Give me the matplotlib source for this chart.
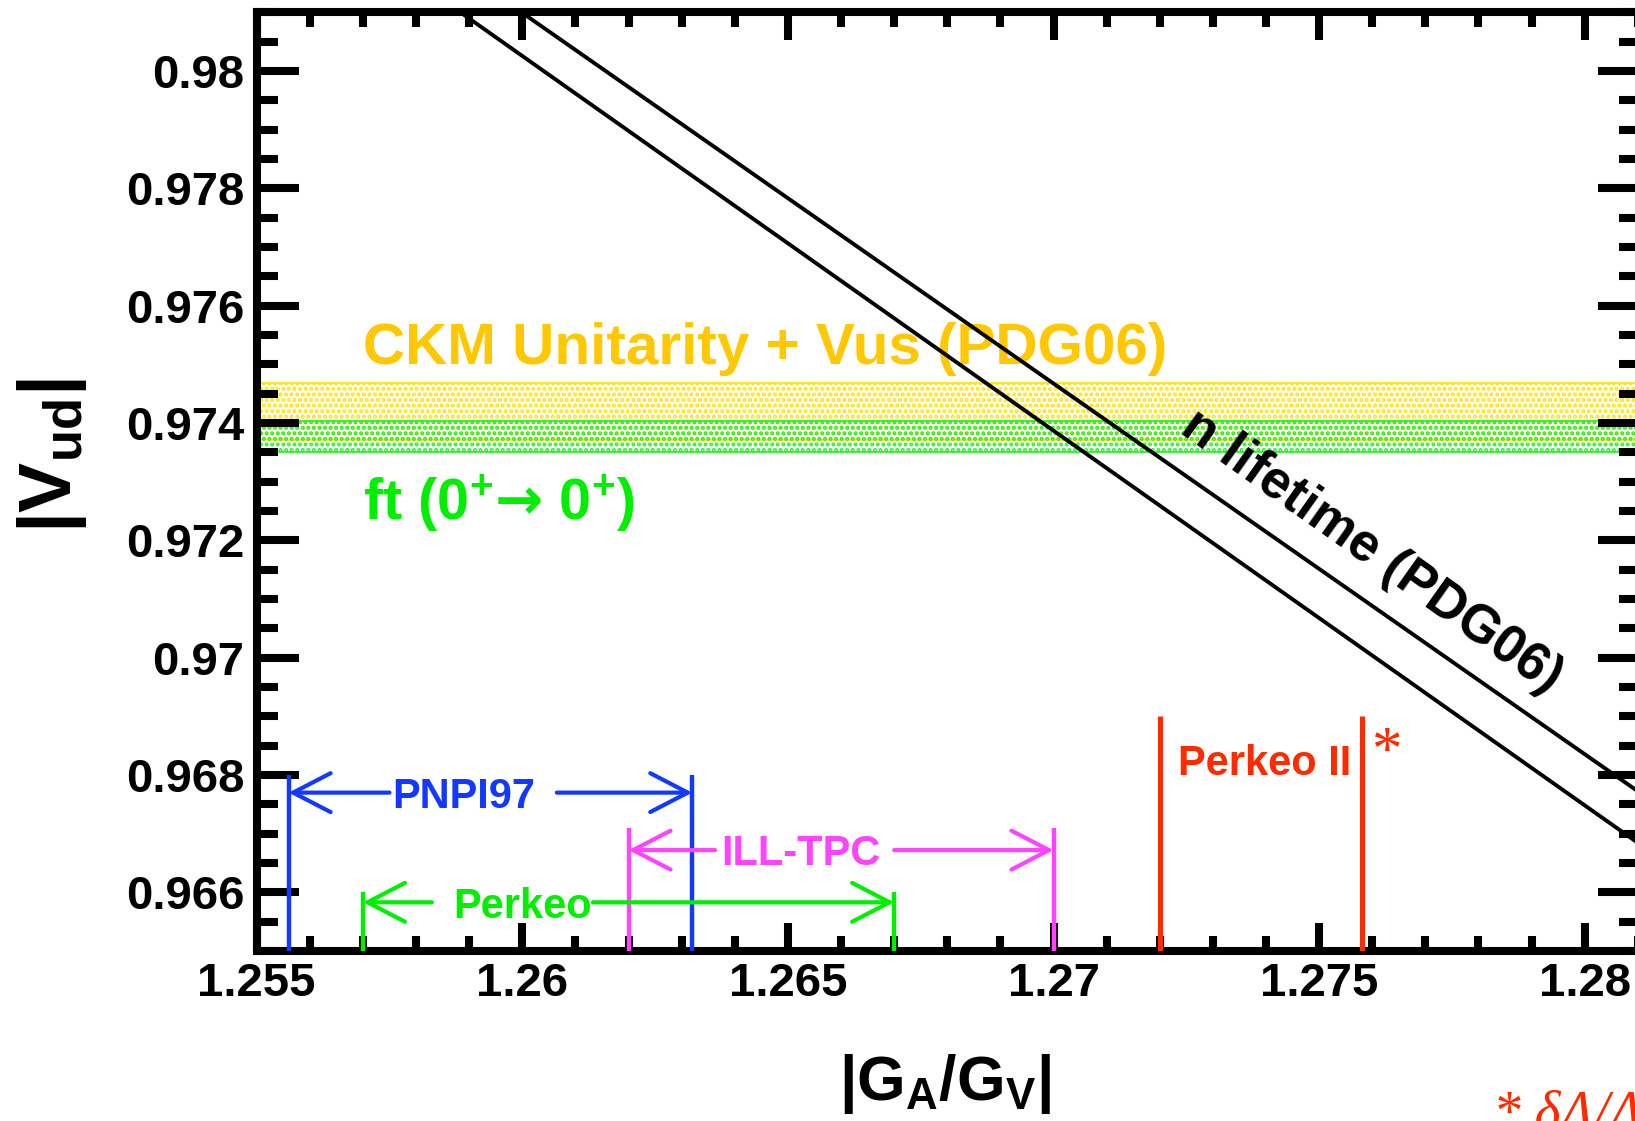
import matplotlib
matplotlib.use('Agg')
import matplotlib.pyplot as plt
from matplotlib.ticker import FixedLocator, MultipleLocator

# axis ticks
x_major = [1.255, 1.26, 1.265, 1.27, 1.275, 1.28]
x_labels = ['1.255', '1.26', '1.265', '1.27', '1.275', '1.28']
y_major = [0.966, 0.968, 0.97, 0.972, 0.974, 0.976, 0.978, 0.98]
y_labels = ['0.966', '0.968', '0.97', '0.972', '0.974', '0.976', '0.978', '0.98']

# |Vud| bands
ckm_band = [0.97371, 0.97468]
ft_band = [0.97350, 0.97404]

# neutron lifetime band edges (lambda, Vud)
tau_lo_x = [1.25884, 1.28110]
tau_lo_y = [0.98100, 0.96678]
tau_hi_x = [1.25999, 1.28110]
tau_hi_y = [0.98100, 0.96766]

# lambda measurements
exp_names = ['PNPI97', 'ILL-TPC', 'Perkeo', 'Perkeo II']
exp_lo = [1.2556, 1.2620, 1.2570, 1.2720]
exp_hi = [1.2632, 1.2700, 1.2670, 1.2758]
exp_top = [0.9680, 0.9671, 0.9660, 0.9690]
exp_colors = ['#1438ff', '#ff44ff', '#00ee00', '#ff2a00']
arrow_y = [0.9677, 0.96672, 0.96583]
label_x = [1.2589, 1.26524, 1.2600, 1.27397]
gap_lo = [1.2575, 1.26363, 1.25830]
gap_hi = [1.26065, 1.26700, 1.26133]

plt.rcParams['font.family'] = ['Liberation Sans', 'DejaVu Sans']
plt.rcParams['font.weight'] = 'bold'
plt.rcParams['mathtext.fontset'] = 'custom'
plt.rcParams['mathtext.rm'] = 'Liberation Sans:bold'
plt.rcParams['mathtext.it'] = 'Liberation Sans:bold'
plt.rcParams['mathtext.bf'] = 'Liberation Sans:bold'
plt.rcParams['mathtext.sf'] = 'DejaVu Sans'
plt.rcParams['mathtext.default'] = 'rm'
plt.rcParams['hatch.linewidth'] = 2.0

fig = plt.figure(figsize=(16.35, 11.21), dpi=100)
ax = fig.add_axes([0.1570, 0.15165, 0.84605, 0.83720])
ax.set_xlim(1.255, 1.28104)
ax.set_ylim(0.965, 0.981)

# bands
ax.axhspan(ckm_band[0], ckm_band[1], facecolor='none', edgecolor='#ffe400',
           hatch='...', lw=1.2, zorder=1)
ax.axhspan(ft_band[0], ft_band[1], facecolor='none', edgecolor='#22ee22',
           hatch='...', lw=1.2, zorder=1.1)
ax.text(1.257, 0.975, 'CKM Unitarity + Vus (PDG06)', color='#ffc800',
        fontsize=42, ha='left', va='baseline')
ax.text(1.257, 0.97235, r'ft (0$^{+}$$\mathsf{→}$ 0$^{+}$)', color='#00ee00',
        fontsize=41.5, ha='left', va='baseline')

# neutron lifetime
ax.plot(tau_lo_x, tau_lo_y, color='black', lw=2.8, zorder=3)
ax.plot(tau_hi_x, tau_hi_y, color='black', lw=2.8, zorder=3)
ax.text(1.27598, 0.971814, 'n lifetime (PDG06)', fontsize=38, rotation=-35.3,
        rotation_mode='anchor', ha='center', va='center', color='black')

# experiments
for i, name in enumerate(exp_names):
    c = exp_colors[i]
    lw = 3.6 if i == 3 else 3.2
    ax.vlines([exp_lo[i], exp_hi[i]], 0.965, exp_top[i], color=c, lw=lw, zorder=4)
    if i < 3:
        style = '->,head_length=2.7,head_width=1.4'
        ax.annotate('', xy=(exp_lo[i], arrow_y[i]), xytext=(gap_lo[i], arrow_y[i]),
                    arrowprops=dict(arrowstyle=style, color=c, lw=3, shrinkA=0,
                                    shrinkB=0, mutation_scale=10), zorder=5)
        ax.annotate('', xy=(exp_hi[i], arrow_y[i]), xytext=(gap_hi[i], arrow_y[i]),
                    arrowprops=dict(arrowstyle=style, color=c, lw=3, shrinkA=0,
                                    shrinkB=0, mutation_scale=10), zorder=5)
        ax.annotate(name, xy=(label_x[i], arrow_y[i]), xytext=(0, -11),
                    textcoords='offset points', ha='center', va='baseline',
                    fontsize=30, color=c)
    else:
        ax.text(label_x[i], 0.968, name, ha='center', va='baseline',
                fontsize=30, color=c)
        ax.text(1.27627, 0.96812, '*', ha='center', va='baseline', fontsize=44,
                color=c, family='Liberation Serif', fontweight='normal')

# axes styling
for sp in ax.spines.values():
    sp.set_linewidth(5.8)
ax.xaxis.set_major_locator(FixedLocator(x_major))
ax.set_xticklabels(x_labels)
ax.xaxis.set_minor_locator(MultipleLocator(0.001))
ax.yaxis.set_major_locator(FixedLocator(y_major))
ax.set_yticklabels(y_labels)
ax.yaxis.set_minor_locator(MultipleLocator(0.0005))
ax.tick_params(which='both', direction='in', top=True, right=True,
               width=5.8, labelsize=34)
ax.tick_params(axis='x', which='major', length=20.5, pad=8)
ax.tick_params(axis='x', which='minor', length=11)
ax.tick_params(axis='y', which='major', length=30, pad=9)
ax.tick_params(axis='y', which='minor', length=15)

# axis titles
fig.text(945 / 1635, 1 - 1100 / 1121, '|G$_{A}$/G$_{V}$|', fontsize=45,
         ha='center', va='baseline')
fig.text(52 / 1635, 1 - 455 / 1121, '|V$_{ud}$|', fontsize=54, rotation=90,
         ha='center', va='center')
fig.text(1493 / 1635, -0.008, '* δΛ/Λ', fontsize=40, color='#ff2a00',
         family='Liberation Serif', style='italic', fontweight='normal',
         ha='left', va='baseline')

fig.savefig('out.png', dpi=100)
